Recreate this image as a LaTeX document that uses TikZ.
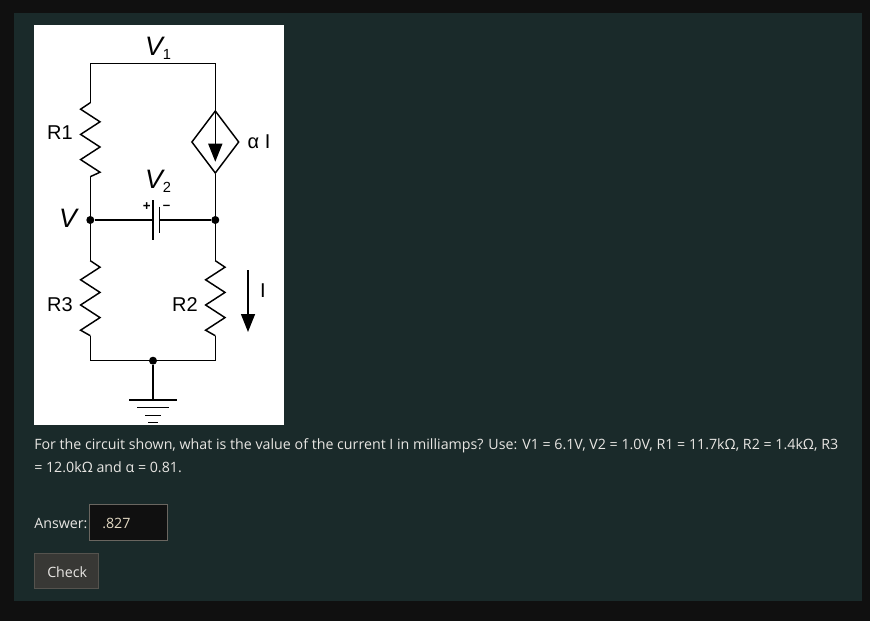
\documentclass[tikz,border=0pt]{standalone}
\usepackage{fontspec}
\setmainfont{Open Sans}
\newfontfamily\schemfont{Liberation Sans}
\usetikzlibrary{arrows.meta,shapes.geometric}
\definecolor{pagebg}{HTML}{101010}
\definecolor{panelbg}{HTML}{1A2A2A}
\definecolor{pagetext}{HTML}{E8E6E3}
\definecolor{answertext}{HTML}{E3D9C3}
\definecolor{boxline}{HTML}{6A6660}
\definecolor{btnfill}{HTML}{383835}
\definecolor{btnline}{HTML}{55534E}
\tikzset{
  wire/.style={line width=1.1pt,black},
  dot/.style={circle,fill=black,inner sep=0pt,minimum size=6pt},
  schem/.style={inner sep=0pt,black,font=\schemfont\fontsize{15}{15}\selectfont},
  pagetxt/.style={inner sep=0pt,anchor=base west,text=pagetext,font=\fontsize{10.67}{12}\selectfont},
  flow/.style={wire,-{Triangle[width=10.5pt,length=13.5pt]}},
}
\newcommand{\zigres}[3]{\draw[wire,line join=miter] (#1)--++(#3*9.7,6.5)--++(-#3*19.4,12.6)--++(#3*19.4,12.6)--++(-#3*19.4,12.6)--++(#3*19.4,12.6)--++(-#3*19.4,12.6)--(#2);}
\newcommand{\volt}[1]{{\fontsize{20}{20}\selectfont\itshape V}\raisebox{-3pt}{\fontsize{11}{11}\selectfont #1}}
\begin{document}
\begin{tikzpicture}[x=.75pt,y=-.75pt]
    \useasboundingbox (0,0) rectangle (870,621);
    \fill[pagebg] (0,0) rectangle (870,621);
    \fill[panelbg] (14,13) rectangle (862,601);
    \fill[white] (34,25) rectangle (284,425);

    \coordinate (topl) at (90.3,63.7);
    \coordinate (topr) at (215.3,63.7);
    \coordinate (r1a) at (90.3,102.7);
    \coordinate (r1b) at (90.3,176.7);
    \coordinate (r3a) at (90.3,260.7);
    \coordinate (r3b) at (90.3,335.7);
    \coordinate (r2a) at (215.3,260.7);
    \coordinate (r2b) at (215.3,335.7);
    \coordinate (botl) at (90.3,360.7);
    \coordinate (botr) at (215.3,360.7);
    \coordinate (gnd) at (153,400);
    \node[dot] (nodev) at (90.3,220) {};
    \node[dot] (noder) at (215.3,220) {};
    \node[dot] (nodeb) at (153,360.7) {};
    \node[diamond,draw=black,line width=1.1pt,inner sep=0pt,minimum width=47.4*.75pt,minimum height=62.6*.75pt] (src) at (215.3,142) {};
    \coordinate (srctip) at (215.3,161.7);

    \draw[wire,line join=miter] (r1a)--(topl)--(topr)--(src.north);
    \zigres{r1a}{r1b}{-1}
    \draw[wire] (r1b)--(nodev)--(r3a);
    \zigres{r3a}{r3b}{1}
    \draw[wire,line join=miter] (r3b)--(botl)--(nodeb);
    \zigres{r2a}{r2b}{1}
    \draw[wire,line join=miter] (r2b)--(botr)--(nodeb);
    \draw[wire] (src.south)--(noder)--(r2a);
    \draw[flow] (src.north)--(srctip);

    % battery
    \coordinate (batl) at (153,220);
    \coordinate (batr) at (159.3,220);
    \draw[wire] (nodev)--(batl);
    \draw[wire] (batr)--(noder);
    \draw[wire] (153,200)--(153,240);
    \draw[wire] (159.3,206.7)--(159.3,233);
    \node[schem,font=\schemfont\bfseries\fontsize{10}{10}\selectfont] (plus) at (146.7,207) {+};
    \node[schem,font=\schemfont\bfseries\fontsize{10}{10}\selectfont] (minus) at (166.7,207) {–};

    % ground
    \draw[wire] (nodeb)--(gnd);
    \foreach \y/\w in {400/23.7,407.7/16,415.7/8,422.7/5}
        \draw[wire] (153-\w,\y)--(153+\w,\y);

    % current arrow
    \coordinate (ia) at (248,270);
    \coordinate (ib) at (248,332);
    \draw[flow] (ia)--(ib);

    \node[schem] (labv1) at (158,48) {\volt{1}};
    \node[schem] (labv2) at (158,181) {\volt{2}};
    \node[schem,font=\schemfont\itshape\fontsize{20}{20}\selectfont] (labv) at (68,218) {V};
    \node[schem] (labr1) at (60,133) {R1};
    \node[schem] (labr3) at (60,305) {R3};
    \node[schem] (labr2) at (185,305) {R2};
    \node[schem] (labai) at (259,142) {α I};
    \node[schem] (labi) at (263,291) {I};

    % question
    \node[pagetxt] (qone) at (34,449.5) {For the circuit shown, what is the value of the current I in milliamps? Use: V1 = 6.1V, V2 = 1.0V, R1 = 11.7kΩ, R2 = 1.4kΩ, R3};
    \node[pagetxt] (qtwo) at (34,472) {= 12.0kΩ and α = 0.81.};
    \node[pagetxt] (anslab) at (34,528) {Answer:};
    \draw[boxline,fill=pagebg,line width=.75pt] (89.5,504.5) rectangle (167.5,540.5);
    \node[pagetxt,text=answertext] (ansval) at (102,528) {.827};
    \draw[btnline,fill=btnfill,line width=.75pt] (34.5,553.5) rectangle (98.5,588.5);
    \node[pagetxt] (check) at (47,577) {Check};
\end{tikzpicture}
\end{document}
